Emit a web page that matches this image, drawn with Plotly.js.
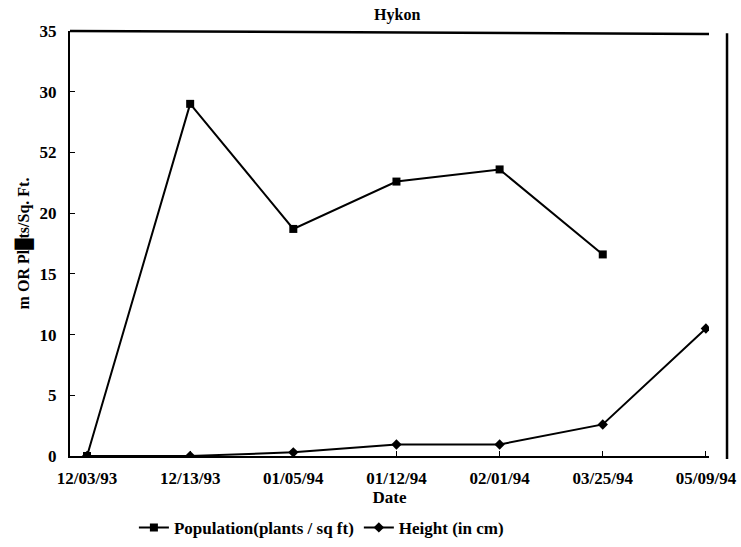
<!DOCTYPE html>
<html>
<head>
<meta charset="utf-8">
<script src="https://cdn.plot.ly/plotly-3.0.1.min.js"></script>
<style>html,body{margin:0;padding:0;background:#fff;}#chart{width:741px;height:547px;}</style>
</head>
<body>
<div id="chart"></div>
<script>
const dates = ["12/03/93", "12/13/93", "01/05/94", "01/12/94", "02/01/94", "03/25/94", "05/09/94"];
const population = [0, 29, 18.7, 22.6, 23.6, 16.6, null];
const height = [0, 0, 0.3, 0.95, 0.95, 2.6, 10.5];
const yTickVals = [0, 5, 10, 15, 20, 25, 30, 35];
const yTickText = ["0", "5", "10", "15", "20", "52", "30", "35"];

const serif = "Liberation Serif, Times New Roman, serif";

const traces = [
  {
    x: dates, y: population, name: "Population(plants / sq ft)",
    type: "scatter", mode: "lines+markers",
    line: {color: "#000", width: 2},
    marker: {symbol: "square", size: 8, color: "#000"},
    connectgaps: false
  },
  {
    x: dates, y: height, name: "Height (in cm)",
    type: "scatter", mode: "lines+markers",
    line: {color: "#000", width: 2},
    marker: {symbol: "diamond", size: 8, color: "#000"}
  }
];

const layout = {
  width: 741, height: 547,
  margin: {l: 70, r: 32, t: 31, b: 91, autoexpand: false},
  paper_bgcolor: "#fff", plot_bgcolor: "#fff",
  font: {family: serif, color: "#000", size: 14},
  title: {text: "<b>Hykon</b>", x: 0.512, xref: "paper", xanchor: "center", y: 0.973, yref: "container", yanchor: "middle", font: {family: serif, size: 16, color: "#000"}},
  xaxis: {
    type: "category", range: [-0.165, 6.03], automargin: false,
    showgrid: false, zeroline: false,
    showline: true, linecolor: "#000", linewidth: 2,
    ticks: "inside", ticklen: 5, tickcolor: "#000",
    ticklabelstandoff: 6,
    tickfont: {family: serif, size: 17, color: "#000", weight: "bold"},
    title: {text: "<b>Date</b>", standoff: 3, font: {family: serif, size: 17, color: "#000"}}
  },
  yaxis: {
    range: [0, 35], showgrid: false, zeroline: false, automargin: false,
    showline: true, linecolor: "#000", linewidth: 2,
    ticks: "inside", ticklen: 5, tickcolor: "#000",
    ticklabelstandoff: 8,
    tickvals: yTickVals, ticktext: yTickText,
    tickfont: {family: serif, size: 17, color: "#000", weight: "bold"},
    title: {text: "<b>m OR Pl█ts/Sq. Ft.</b>", standoff: 6, font: {family: serif, size: 16, color: "#000"}}
  },
  showlegend: true,
  legend: {
    orientation: "h", x: 0.1, xanchor: "left", y: -0.169, yanchor: "middle",
    font: {family: serif, size: 17, color: "#000", weight: "bold"},
    bgcolor: "rgba(0,0,0,0)"
  },
  shapes: [
    {type: "line", xref: "paper", yref: "paper", x0: 0, x1: 1, y0: 1, y1: 0.993, line: {color: "#000", width: 2.5}},
    {type: "line", xref: "paper", yref: "paper", x0: 1.0282, x1: 1.0282, y0: 0.995, y1: -0.007, line: {color: "#000", width: 2.5}}
  ]
};

Plotly.newPlot("chart", traces, layout, {displayModeBar: false, staticPlot: true});
</script>
</body>
</html>
